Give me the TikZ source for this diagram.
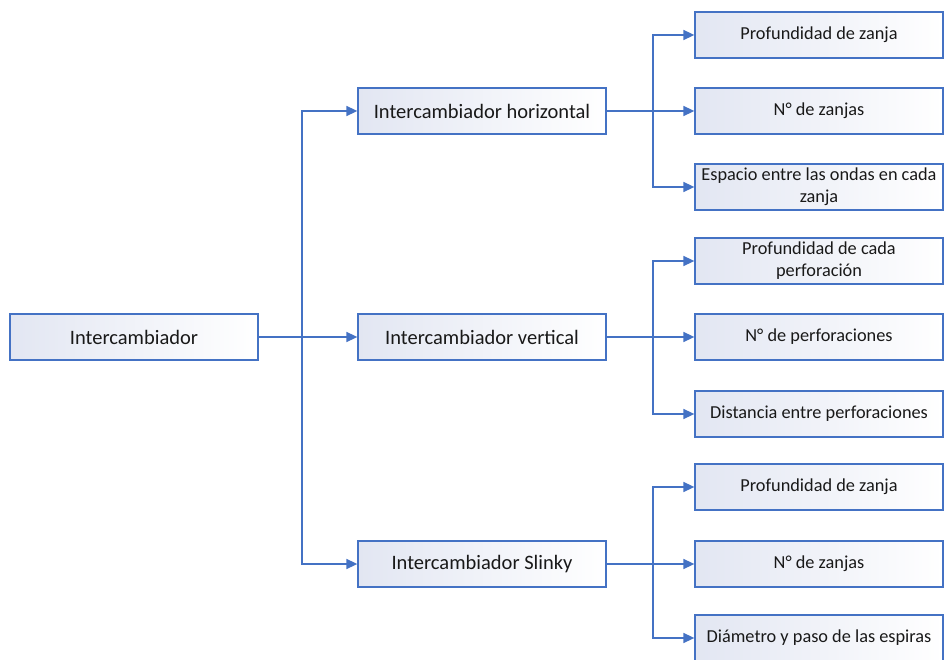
\documentclass[tikz,border=0pt]{standalone}
\usepackage{fontspec}
\setmainfont{Carlito}
\usetikzlibrary{arrows.meta}
\definecolor{edgeblue}{HTML}{4472C4}
\definecolor{fillblue}{HTML}{E2E6F2}
\begin{document}
\begin{tikzpicture}[x=1pt,y=1pt,
  box/.style={draw=edgeblue, line width=1.3pt, left color=fillblue, right color=white,
    minimum width=248pt, minimum height=46pt, inner sep=2pt, align=center, text=black!90},
  big/.style={box, font=\fontsize{20.5}{23}\selectfont},
  small/.style={box, font=\fontsize{18.3}{22}\selectfont},
  conn/.style={draw=edgeblue, line width=1.6pt},
  arr/.style={conn, -{Triangle[length=11pt,width=10pt]}}]
\useasboundingbox (0,0) rectangle (944,659);
% level 1
\node[big] (root) at (134,322) {Intercambiador};
% level 2
\node[big] (h) at (482,548) {Intercambiador horizontal};
\node[big] (v) at (482,322) {Intercambiador vertical};
\node[big] (s) at (482,95) {Intercambiador Slinky};
% level 3
\node[small] (h1) at (819,624) {Profundidad de zanja};
\node[small] (h2) at (819,548) {N° de zanjas};
\node[small] (h3) at (819,472) {Espacio entre las ondas en cada\\zanja};
\node[small] (v1) at (819,398) {Profundidad de cada\\perforación};
\node[small] (v2) at (819,322) {N° de perforaciones};
\node[small] (v3) at (819,245) {Distancia entre perforaciones};
\node[small] (s1) at (819,172) {Profundidad de zanja};
\node[small] (s2) at (819,95) {N° de zanjas};
\node[small] (s3) at (819,21) {Diámetro y paso de las espiras};
% junction coordinates
\coordinate (j0) at (302,322);
\coordinate (jh) at (653,548);
\coordinate (jv) at (653,322);
\coordinate (js) at (653,95);
% connectors level 1 -> 2
\draw[conn] (root.east) -- (j0);
\draw[arr] (j0) |- (h.west);
\draw[arr] (j0) -- (v.west);
\draw[arr] (j0) |- (s.west);
% level 2 -> 3
\draw[conn] (h.east) -- (jh);
\draw[arr] (jh) |- (h1.west);
\draw[arr] (jh) -- (h2.west);
\draw[arr] (jh) |- (h3.west);
\draw[conn] (v.east) -- (jv);
\draw[arr] (jv) |- (v1.west);
\draw[arr] (jv) -- (v2.west);
\draw[arr] (jv) |- (v3.west);
\draw[conn] (s.east) -- (js);
\draw[arr] (js) |- (s1.west);
\draw[arr] (js) -- (s2.west);
\draw[arr] (js) |- (s3.west);
\end{tikzpicture}
\end{document}
